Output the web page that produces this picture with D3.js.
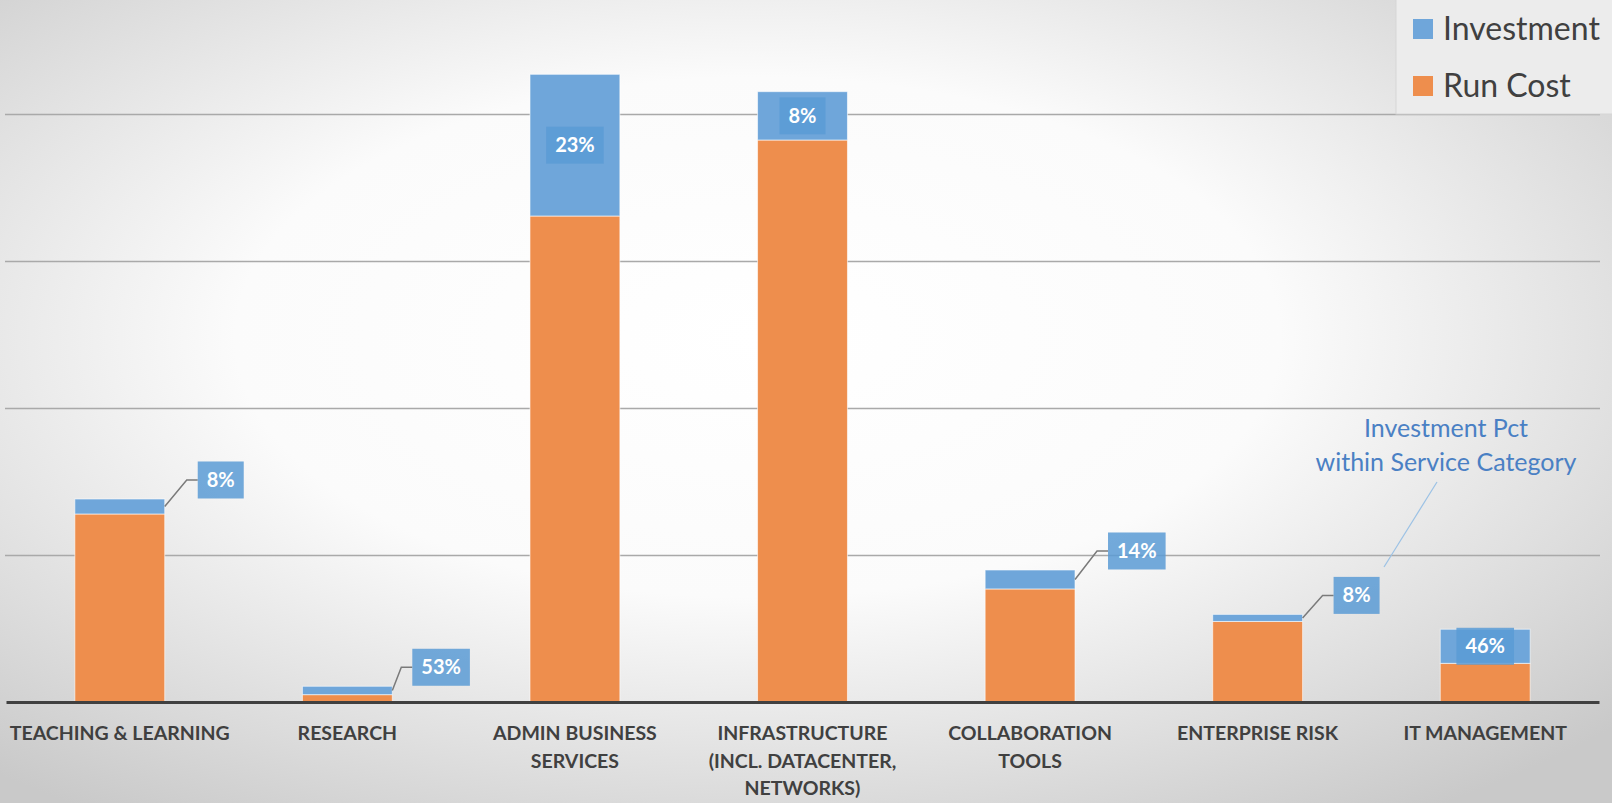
<!DOCTYPE html>
<html>
<head>
<meta charset="utf-8">
<script src="https://cdn.jsdelivr.net/npm/d3@7"></script>
<style>
  body { margin: 0; overflow: hidden; background: #fff; }
  svg { display: block; }
</style>
</head>
<body>
<svg id="chart"></svg>
<script>
// chart values (units: one gridline = 1000)
const categories = ["TEACHING & LEARNING", "RESEARCH", "ADMIN BUSINESS\nSERVICES",
  "INFRASTRUCTURE\n(INCL. DATACENTER,\nNETWORKS)", "COLLABORATION\nTOOLS",
  "ENTERPRISE RISK", "IT MANAGEMENT"];
const runCost    = [1279, 50, 3306, 3823, 769, 548, 263];
const investment = [102, 57, 964, 329, 129, 48, 232];
const investPct  = ["8%", "53%", "23%", "8%", "14%", "8%", "46%"];
const gridTicks  = [0, 1000, 2000, 3000, 4000];
const seriesNames = ["Investment", "Run Cost"];

// label placement (layout only)
const labelInside = [false, false, true, true, false, false, true];
const labelElbow  = [22, 9, 0, 0, 22, 20, 0];
const labelGap    = [33, 20, 0, 0, 33, 31, 0];

const W = 1612, H = 803;
const colors = { "Run Cost": "#ee8e4d", "Investment": "#6fa6da" };

const svg = d3.select("#chart").attr("width", W).attr("height", H);

// background
const defs = svg.append("defs");
const grad = defs.append("radialGradient").attr("id", "bg")
  .attr("cx", "47%").attr("cy", "42%").attr("r", "72%");
grad.append("stop").attr("offset", "0%").attr("stop-color", "#ffffff");
grad.append("stop").attr("offset", "45%").attr("stop-color", "#fbfbfb");
grad.append("stop").attr("offset", "100%").attr("stop-color", "#c9c9c9");
svg.append("rect").attr("width", W).attr("height", H).attr("fill", "url(#bg)");

const rows = categories.map((c, i) => ({ cat: c, "Run Cost": runCost[i], "Investment": investment[i] }));

const x = d3.scaleBand().domain(categories).range([6, 1599])
  .paddingInner(0.605).paddingOuter(0.3025);
const y = d3.scaleLinear().domain([0, 4000]).range([702, 114]);

// gridlines
const grid = svg.append("g").attr("transform", "translate(1600,0)")
  .call(d3.axisLeft(y).tickValues(gridTicks.slice(1)).tickSize(1595).tickFormat(""));
grid.select(".domain").remove();
grid.selectAll(".tick line").attr("stroke", "#a9a9a9").attr("stroke-width", 1.5);

// stacked bars
const stack = d3.stack().keys(["Run Cost", "Investment"])(rows);
svg.append("g").selectAll("g").data(stack).join("g")
  .attr("fill", d => colors[d.key])
  .selectAll("rect").data(d => d).join("rect")
  .attr("x", d => x(d.data.cat))
  .attr("width", x.bandwidth())
  .attr("y", d => y(d[1]))
  .attr("height", d => y(d[0]) - y(d[1]))
  .attr("stroke", "#ffffff").attr("stroke-width", 1).attr("stroke-opacity", 0.6);

// baseline axis
const xAxis = svg.append("g").attr("transform", `translate(0,${y(0)})`)
  .call(d3.axisBottom(x).tickSize(0).tickFormat(""));
xAxis.select(".domain").attr("stroke", "#404040").attr("stroke-width", 3);

// category labels
const catLabels = svg.append("g")
  .attr("font-family", "Lato, 'Open Sans', sans-serif")
  .attr("font-weight", "bold").attr("font-size", 19.5).attr("fill", "#404040")
  .attr("text-anchor", "middle");
categories.forEach(c => {
  const t = catLabels.append("text").attr("x", x(c) + x.bandwidth() / 2).attr("y", 740);
  c.split("\n").forEach((line, k) => {
    t.append("tspan").attr("x", x(c) + x.bandwidth() / 2).attr("dy", k === 0 ? 0 : 27.5).text(line);
  });
});

// percentage labels
const lab = svg.append("g");
categories.forEach((c, i) => {
  const right = x(c) + x.bandwidth();
  const top = y(runCost[i] + investment[i]);
  const midInv = (y(runCost[i]) + top) / 2;
  const g = lab.append("g");
  const txt = g.append("text").text(investPct[i])
    .attr("font-family", "Lato, 'Open Sans', sans-serif")
    .attr("font-weight", "bold").attr("font-size", 20)
    .attr("fill", "#ffffff").attr("text-anchor", "middle");
  const tw = txt.node().getComputedTextLength();
  const bw = tw + 18, bh = 37;
  let cx, cy;
  if (labelInside[i]) {
    cx = x(c) + x.bandwidth() / 2;
    cy = midInv;
  } else {
    cx = right + labelGap[i] + bw / 2;
    cy = top - 19;
    g.insert("polyline", "text")
      .attr("points", [[right, midInv], [right + labelElbow[i], cy], [right + labelGap[i], cy]].join(" "))
      .attr("fill", "none").attr("stroke", "#7a7a7a").attr("stroke-width", 1.5);
  }
  g.insert("rect", "text").attr("x", cx - bw / 2).attr("y", cy - bh / 2)
    .attr("width", bw).attr("height", bh)
    .attr("fill", "#5b9bd5").attr("fill-opacity", 0.85);
  txt.attr("x", cx).attr("y", cy + 7);
});

// annotation
const ann = svg.append("g").attr("font-family", "Lato, 'Open Sans', sans-serif")
  .attr("font-size", 25).attr("fill", "#4a80c4").attr("text-anchor", "middle");
ann.append("text").attr("x", 1446).attr("y", 437).text("Investment Pct");
ann.append("text").attr("x", 1446).attr("y", 471).text("within Service Category");
svg.append("line").attr("x1", 1437).attr("y1", 482).attr("x2", 1384).attr("y2", 567)
  .attr("stroke", "#9cc2e5").attr("stroke-width", 1.2);

// legend
const leg = svg.append("g");
leg.append("rect").attr("x", 1396).attr("y", -1).attr("width", 217).attr("height", 115)
  .attr("fill", "#ececec").attr("stroke", "#d6d6d6");
seriesNames.forEach((s, k) => {
  const yy = 19 + k * 57;
  leg.append("rect").attr("x", 1413).attr("y", yy).attr("width", 20).attr("height", 20)
    .attr("fill", colors[s]);
  leg.append("text").attr("x", 1443).attr("y", yy + 21).text(s)
    .attr("font-family", "Lato, 'Open Sans', sans-serif").attr("font-size", 32)
    .attr("fill", "#404040");
});
</script>
</body>
</html>
